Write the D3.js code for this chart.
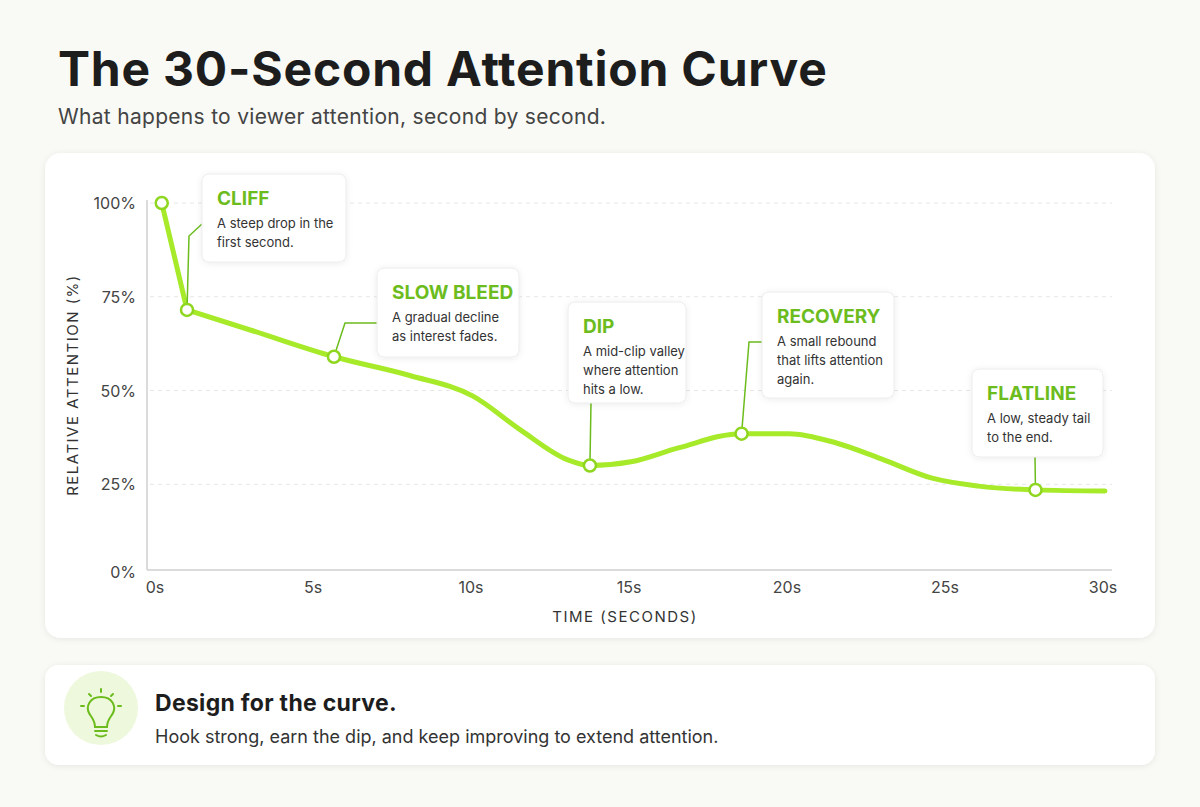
<!DOCTYPE html>
<html><head><meta charset="utf-8">
<script src="https://cdn.jsdelivr.net/npm/d3@7"></script>
<style>
body{margin:0;background:#f9faf5;font-family:Inter,"Noto Sans",sans-serif;}
</style></head>
<body><div id="chart"></div>
<script>
const times  = [0.15, 0.95, 3, 5.6, 8, 10, 11.5, 13, 13.7, 15, 16.5, 18.5, 20, 21.5, 23, 24.5, 26, 27.8, 30];
const values = [100, 71.5, 66, 59, 54, 48.5, 39.5, 31.5, 30, 31, 34.7, 38.5, 38.5, 36, 31.5, 26.7, 24.5, 23.5, 23.2];
const yTicks = [0, 25, 50, 75, 100];
const xTicks = [0, 5, 10, 15, 20, 25, 30];
const notes = [
  {title: "CLIFF", lines: ["A steep drop in the", "first second."], idx: 1, box: [202, 174, 144, 88], path: [[202, 224], [189, 236]]},
  {title: "SLOW BLEED", lines: ["A gradual decline", "as interest fades."], idx: 3, box: [377, 268, 142, 89], path: [[377, 323], [345, 323]]},
  {title: "DIP", lines: ["A mid-clip valley", "where attention", "hits a low."], idx: 8, box: [568, 302, 118, 101], path: [[591, 403]]},
  {title: "RECOVERY", lines: ["A small rebound", "that lifts attention", "again."], idx: 11, box: [762, 292, 132, 106], path: [[762, 342], [749, 342]]},
  {title: "FLATLINE", lines: ["A low, steady tail", "to the end."], idx: 17, box: [972, 369, 131, 88], path: [[1035, 457]]}
];

const W = 1200, H = 807;
const svg = d3.select("#chart").append("svg").attr("width", W).attr("height", H);
const defs = svg.append("defs");
const f = defs.append("filter").attr("id", "sh").attr("x", "-20%").attr("y", "-20%").attr("width", "140%").attr("height", "140%");
f.append("feDropShadow").attr("dx", 0).attr("dy", 1).attr("stdDeviation", 3).attr("flood-color", "#000").attr("flood-opacity", 0.08);

svg.append("text").attr("x", 58).attr("y", 86).attr("font-size", 48).attr("font-weight", 700)
  .attr("fill", "#1d1d1d").attr("letter-spacing", "0.8").text("The 30-Second Attention Curve");
svg.append("text").attr("x", 58).attr("y", 124).attr("font-size", 21).attr("fill", "#444").attr("letter-spacing", "0.3")
  .text("What happens to viewer attention, second by second.");

svg.append("rect").attr("x", 45).attr("y", 153).attr("width", 1110).attr("height", 485).attr("rx", 16)
  .attr("fill", "#fff").attr("filter", "url(#sh)");

const x = d3.scaleLinear().domain([0, 30]).range([157, 1105]);
const y = d3.scaleLinear().domain([0, 100]).range([578, 203]);

const g = svg.append("g");
g.selectAll(".grid").data(yTicks.filter(d => d > 0)).join("line")
  .attr("x1", 150).attr("x2", 1112).attr("y1", d => y(d)).attr("y2", d => y(d))
  .attr("stroke", "#e6e6e6").attr("stroke-dasharray", "4,4");
g.append("line").attr("x1", 147).attr("x2", 147).attr("y1", 200).attr("y2", 570).attr("stroke", "#cfcfcf").attr("stroke-width", 1.5);
g.append("line").attr("x1", 147).attr("x2", 1112).attr("y1", 570).attr("y2", 570).attr("stroke", "#cfcfcf").attr("stroke-width", 1.5);
g.selectAll(".yl").data(yTicks).join("text")
  .attr("x", 136).attr("y", d => d === 0 ? 578 : y(d) + 6).attr("text-anchor", "end")
  .attr("font-size", 16).attr("fill", "#444").text(d => d + "%");
g.selectAll(".xl").data(xTicks).join("text")
  .attr("x", d => d === 0 ? 155 : x(d) - 2).attr("y", 593).attr("text-anchor", "middle")
  .attr("font-size", 16).attr("fill", "#444").text(d => d + "s");
svg.append("text").attr("x", 625).attr("y", 622).attr("text-anchor", "middle").attr("font-size", 15)
  .attr("letter-spacing", "1.5").attr("fill", "#333").text("TIME (SECONDS)");
svg.append("text").attr("transform", "translate(78,385) rotate(-90)").attr("text-anchor", "middle")
  .attr("font-size", 15).attr("letter-spacing", "1.5").attr("fill", "#333").text("RELATIVE ATTENTION (%)");

const pts = times.map((t, i) => [t, values[i]]);
const lineStyle = p => p.attr("fill", "none").attr("stroke", "#a6ea2a").attr("stroke-width", 5)
  .attr("stroke-linecap", "round").attr("stroke-linejoin", "round");
// the cliff is a straight drop, the rest is smooth
g.append("path").datum(pts.slice(0, 2)).attr("d", d3.line().x(d => x(d[0])).y(d => y(d[1]))).call(lineStyle);
g.append("path").datum(pts.slice(1)).attr("d", d3.line().x(d => x(d[0])).y(d => y(d[1])).curve(d3.curveMonotoneX)).call(lineStyle);

const green = "#6cbc1e";
notes.forEach(n => {
  const px = x(times[n.idx]), py = y(values[n.idx]);
  const p = n.path.concat([[px, py]]);
  g.append("path").attr("d", d3.line()(p)).attr("fill", "none").attr("stroke", green).attr("stroke-width", 1.5);
});
g.selectAll(".pt").data([0].concat(notes.map(n => n.idx))).join("circle")
  .attr("cx", i => x(times[i])).attr("cy", i => y(values[i])).attr("r", 6)
  .attr("fill", "#fff").attr("stroke", "#8ed61f").attr("stroke-width", 2.5);

notes.forEach(n => {
  const [bx, by, bw, bh] = n.box;
  const b = svg.append("g");
  b.append("rect").attr("x", bx).attr("y", by).attr("width", bw).attr("height", bh).attr("rx", 7)
    .attr("fill", "#fff").attr("stroke", "#ececec").attr("filter", "url(#sh)");
  b.append("text").attr("x", bx + 15).attr("y", by + 31).attr("font-size", 19).attr("font-weight", 700)
    .attr("fill", green).text(n.title);
  n.lines.forEach((l, i) => b.append("text").attr("x", bx + 15).attr("y", by + 54 + i * 19)
    .attr("font-size", 13).attr("fill", "#333").text(l));
});

// bottom card
svg.append("rect").attr("x", 45).attr("y", 665).attr("width", 1110).attr("height", 100).attr("rx", 14)
  .attr("fill", "#fff").attr("filter", "url(#sh)");
svg.append("circle").attr("cx", 101).attr("cy", 708).attr("r", 37).attr("fill", "#eef8dc");
const ic = svg.append("g").attr("fill", "none").attr("stroke", green).attr("stroke-width", 2).attr("stroke-linecap", "round");
ic.append("path").attr("d", "M95,727 C95,720 91,717 89,713 C86,707 89,697 101,697 C113,697 116,707 113,713 C111,717 107,720 107,727 Z");
ic.append("path").attr("d", "M95,731 L107,731 M96,735 Q101,738 106,735");
ic.append("path").attr("d", "M101,689 L101,692 M89,694 L91,696 M113,694 L111,696 M81,706 L84,706 M118,706 L121,706");
svg.append("text").attr("x", 155).attr("y", 711).attr("font-size", 23).attr("font-weight", 700)
  .attr("fill", "#1d1d1d").attr("letter-spacing", "0.3").text("Design for the curve.");
svg.append("text").attr("x", 155).attr("y", 743).attr("font-size", 18).attr("fill", "#333")
  .text("Hook strong, earn the dip, and keep improving to extend attention.");
</script></body></html>
